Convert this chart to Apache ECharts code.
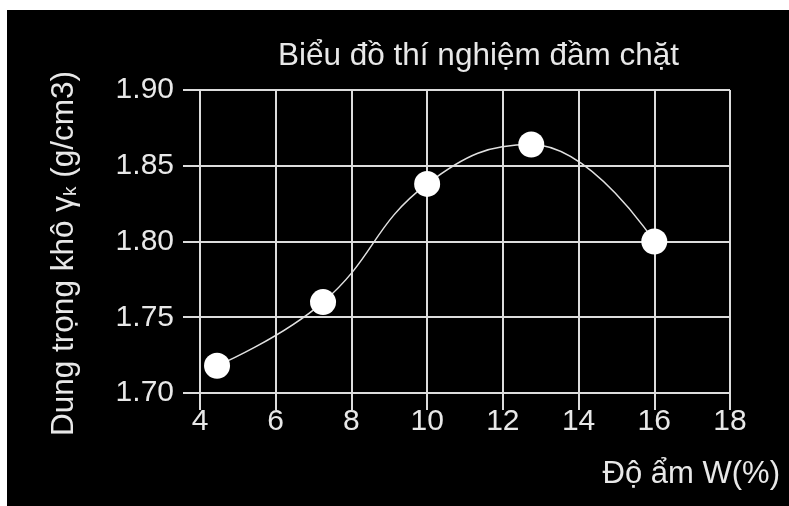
<!DOCTYPE html>
<html>
<head>
<meta charset="utf-8">
<script src="https://cdn.jsdelivr.net/npm/echarts@6/dist/echarts.min.js"></script>
<style>
html,body{margin:0;padding:0;background:#fff;width:789px;height:506px;overflow:hidden;}
#chart{position:absolute;left:7px;top:10px;width:782px;height:496px;background:#000;}
</style>
</head>
<body>
<div id="chart"></div>
<script>
var titleText = "Biểu đồ thí nghiệm đầm chặt";
var xName = "Độ ẩm W(%)";
var moisture = [4.45, 7.25, 10.0, 12.75, 16.0];
var density = [1.718, 1.760, 1.838, 1.864, 1.800];
var xTicks = [4, 6, 8, 10, 12, 14, 16, 18];
var yTicks = [1.70, 1.75, 1.80, 1.85, 1.90];

var FONT = "'Liberation Sans', Arial, sans-serif";
var chart = echarts.init(document.getElementById('chart'), null, {renderer: 'canvas'});
var pts = moisture.map(function (x, i) { return [x, density[i]]; });
var gridColor = '#dcdcdc';
chart.setOption({
  backgroundColor: '#000',
  animation: false,
  title: {
    text: titleText,
    left: 266,
    top: 25,
    textStyle: {color: '#e8e8e8', fontFamily: FONT, fontSize: 31.5, fontWeight: 'normal'}
  },
  grid: {left: 193, top: 80, right: 59, bottom: 113, containLabel: false},
  xAxis: {
    type: 'value',
    min: xTicks[0], max: xTicks[xTicks.length - 1], interval: 2,
    name: xName,
    nameLocation: 'end',
    nameGap: 50,
    nameTextStyle: {color: '#e8e8e8', fontFamily: FONT, fontSize: 31, align: 'right', verticalAlign: 'top', padding: [66, 0, 0, 0]},
    axisLine: {show: true, lineStyle: {color: gridColor, width: 2}},
    axisTick: {show: true, length: 17, lineStyle: {color: gridColor, width: 2}},
    axisLabel: {color: '#e8e8e8', fontFamily: FONT, fontSize: 30, margin: 14},
    splitLine: {show: true, lineStyle: {color: gridColor, width: 2}}
  },
  yAxis: {
    type: 'value',
    min: yTicks[0], max: yTicks[yTicks.length - 1], interval: 0.05,
    name: 'Dung trọng khô {g|γ}{s|k} (g/cm3)',
    nameLocation: 'middle',
    nameRotate: 90,
    nameGap: 120,
    nameTextStyle: {
      color: '#e8e8e8', fontFamily: FONT, fontSize: 31.5,
      padding: [0, 24, 0, 0],
      rich: {
        g: {color: '#e8e8e8', fontFamily: FONT, fontSize: 31.5},
        s: {color: '#e8e8e8', fontFamily: FONT, fontSize: 19, verticalAlign: 'bottom'}
      }
    },
    axisLine: {show: true, lineStyle: {color: gridColor, width: 2}},
    axisTick: {show: true, length: 17, lineStyle: {color: gridColor, width: 2}},
    axisLabel: {color: '#e8e8e8', fontFamily: FONT, fontSize: 30, margin: 26,
      formatter: function (v) { return v.toFixed(2); }},
    splitLine: {show: true, lineStyle: {color: gridColor, width: 2}}
  },
  series: [{
    type: 'line',
    data: pts,
    smooth: 0.45,
    symbol: 'circle',
    symbolSize: 26,
    itemStyle: {color: '#ffffff', borderWidth: 0},
    lineStyle: {color: '#e0e0e0', width: 1.5}
  }]
});
</script>
</body>
</html>
